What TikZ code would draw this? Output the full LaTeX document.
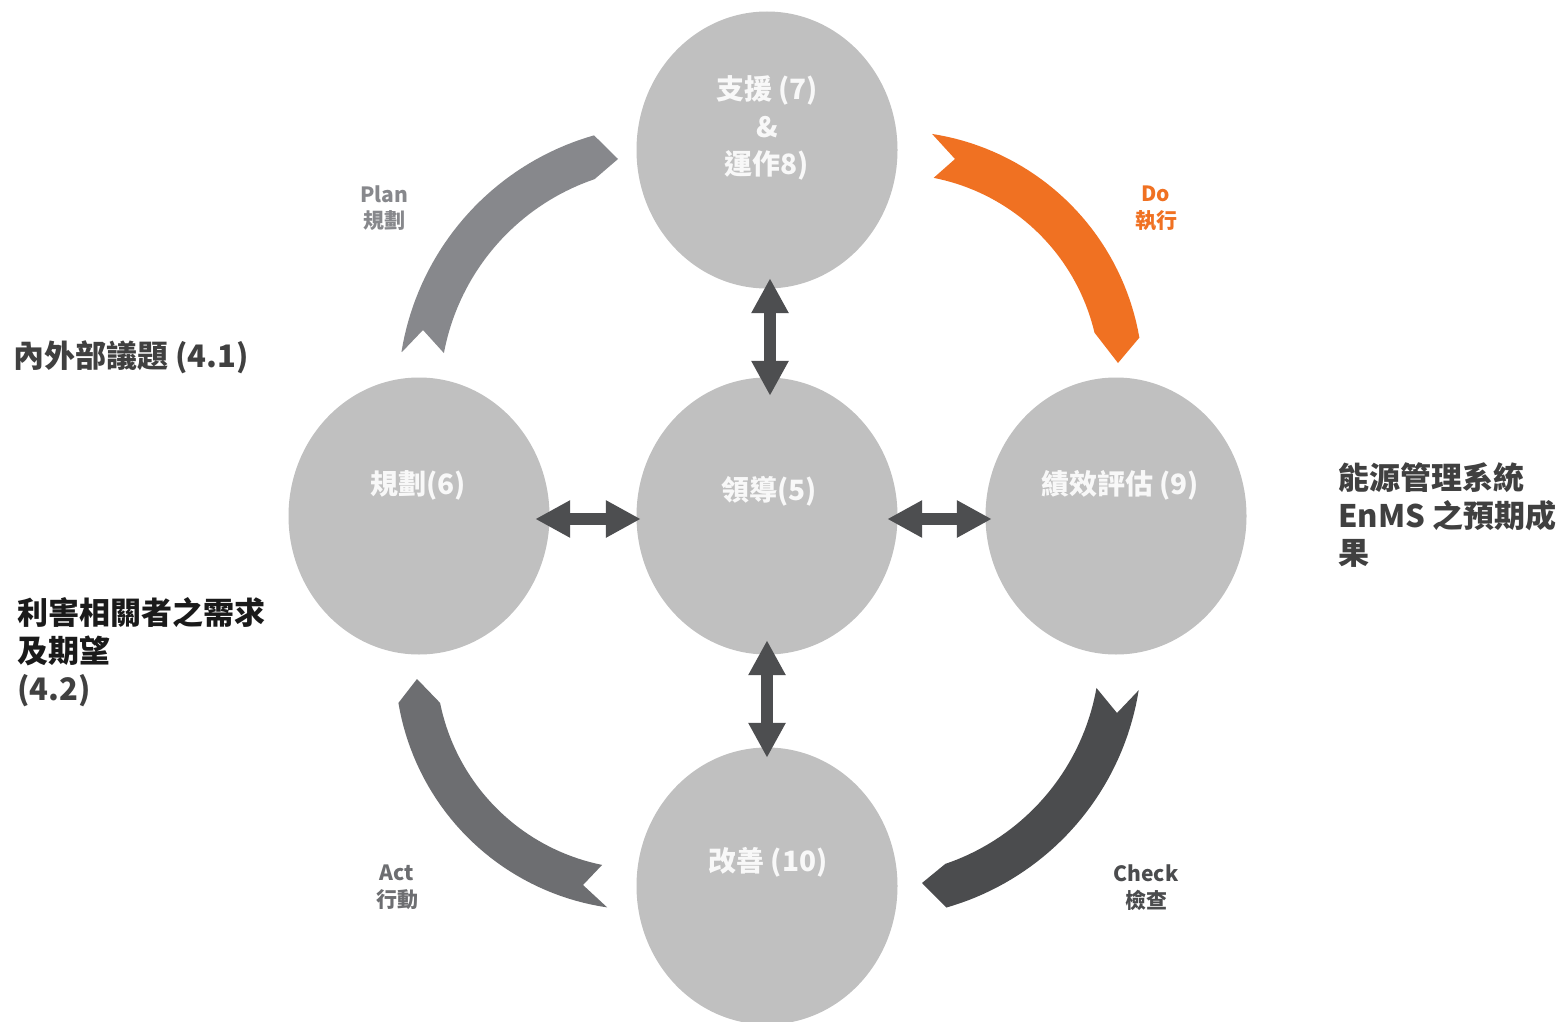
\documentclass[tikz,border=0pt]{standalone}
\usepackage{fontspec}
\setmainfont{Noto Sans CJK TC}
\usetikzlibrary{shapes.geometric,arrows.meta}
\definecolor{circfill}{HTML}{C0C0C0}
\definecolor{arrowgray}{HTML}{4D4E50}
\definecolor{plancol}{HTML}{87888C}
\definecolor{docol}{HTML}{F07122}
\definecolor{actcol}{HTML}{6D6E71}
\definecolor{checkcol}{HTML}{4B4C4E}
\definecolor{textdark}{HTML}{404040}
\definecolor{textblack}{HTML}{1A1A1A}
\definecolor{circtext}{HTML}{F8F8F8}
\begin{document}
\begin{tikzpicture}[x=1pt,y=-1pt,
  bubble/.style={ellipse,fill=circfill,draw=none,minimum width=261pt,minimum height=277pt,inner sep=0pt},
  ctext/.style={text=circtext,font=\fontsize{28}{32}\selectfont\bfseries,inner sep=0pt,anchor=center},
  phase/.style={font=\fontsize{21}{24}\selectfont\bfseries,inner sep=0pt,anchor=center},
  side/.style={font=\fontsize{31}{36}\selectfont\bfseries,inner sep=0pt,anchor=west,text=textdark},
  dbl/.style={draw=arrowgray,line width=12pt,{Triangle[length=35pt,width=35pt]}-{Triangle[length=35pt,width=35pt]}}]
\path[use as bounding box,fill=white] (0,0) rectangle (1566,1022);

% circles
\node[bubble] (top) at (767,150) {};
\node[bubble] (left) at (419,516) {};
\node[bubble] (mid) at (767,516) {};
\node[bubble] (right) at (1116,516) {};
\node[bubble] (bottom) at (767,886) {};

% circle texts
\node[ctext] (t1) at (767,90) {支援 (7)};
\node[ctext] (t2) at (767,127) {\&};
\node[ctext] (t3) at (767,165) {運作8)};
\node[ctext] (l1) at (418,485) {規劃(6)};
\node[ctext] (m1) at (769,491) {領導(5)};
\node[ctext] (r1) at (1120,485) {績效評估 (9)};
\node[ctext] (b1) at (768,862) {改善 (10)};

% double arrows
\draw[dbl] ([xshift=3pt,yshift=10.5pt]top.south) -- ([xshift=3pt,yshift=-18.5pt]mid.north);
\draw[dbl] ([yshift=14.5pt]mid.south) -- ([yshift=-10.5pt]bottom.north);
\draw[dbl] ([xshift=-14.5pt,yshift=-3pt]left.east) -- ([xshift=4.5pt,yshift=-3pt]mid.west);
\draw[dbl] ([xshift=-10.5pt,yshift=-3pt]mid.east) -- ([xshift=6.5pt,yshift=-3pt]right.west);

% Plan ribbon
\fill[plancol] (402,352) -- (423,330)
  -- plot[domain=190.6:251.2,samples=40,variable=\t] ({668+228*cos(\t)},{395+228*sin(\t)})
  -- (618,159)
  -- plot[domain=254.1:189.2,samples=40,variable=\t] ({668+270*cos(\t)},{395+270*sin(\t)}) -- cycle;
% Do ribbon
\fill[docol] (955,159)
  -- plot[domain=-81.2:-9.8,samples=40,variable=\t] ({894+249*cos(\t)},{380+249*sin(\t)})
  -- (1118,363)
  -- plot[domain=-13.3:-78.9,samples=40,variable=\t] ({894+206*cos(\t)},{380+206*sin(\t)}) -- cycle;
% Act ribbon
\fill[actcol] (417,679)
  -- plot[domain=168.6:101.4,samples=40,variable=\t] ({643+207*cos(\t)},{662+207*sin(\t)})
  -- (583,885)
  -- plot[domain=98.3:170.5,samples=40,variable=\t] ({643+248*cos(\t)},{662+248*sin(\t)}) -- cycle;
% Check ribbon
\fill[checkcol] (1117,713)
  -- plot[domain=10.1:71.25,samples=40,variable=\t] ({872+228*cos(\t)},{648+228*sin(\t)})
  -- (922,883)
  -- plot[domain=74:9,samples=40,variable=\t] ({872+270*cos(\t)},{648+270*sin(\t)}) -- cycle;

% phase labels
\node[phase,text=plancol] (p1) at (384,194) {Plan};
\node[phase,text=plancol] (p2) at (384,221) {規劃};
\node[phase,text=docol] (d1) at (1156,194) {Do};
\node[phase,text=docol] (d2) at (1156,221) {執行};
\node[phase,text=actcol] (a1) at (397,873) {Act};
\node[phase,text=actcol] (a2) at (397,900) {行動};
\node[phase,text=checkcol] (c1) at (1146,873) {Check};
\node[phase,text=checkcol] (c2) at (1146,900) {檢查};

% side texts
\node[side] (s1) at (13,357) {內外部議題 (4.1)};
\node[side,text=textblack] (s2) at (17,613) {利害相關者之需求};
\node[side,text=textblack] (s3) at (17,651) {及期望};
\node[side] (s4) at (17,691) {(4.2)};
\node[side] (e1) at (1338,478) {能源管理系統};
\node[side] (e2) at (1338,516) {EnMS 之預期成};
\node[side] (e3) at (1338,553) {果};
\end{tikzpicture}
\end{document}
